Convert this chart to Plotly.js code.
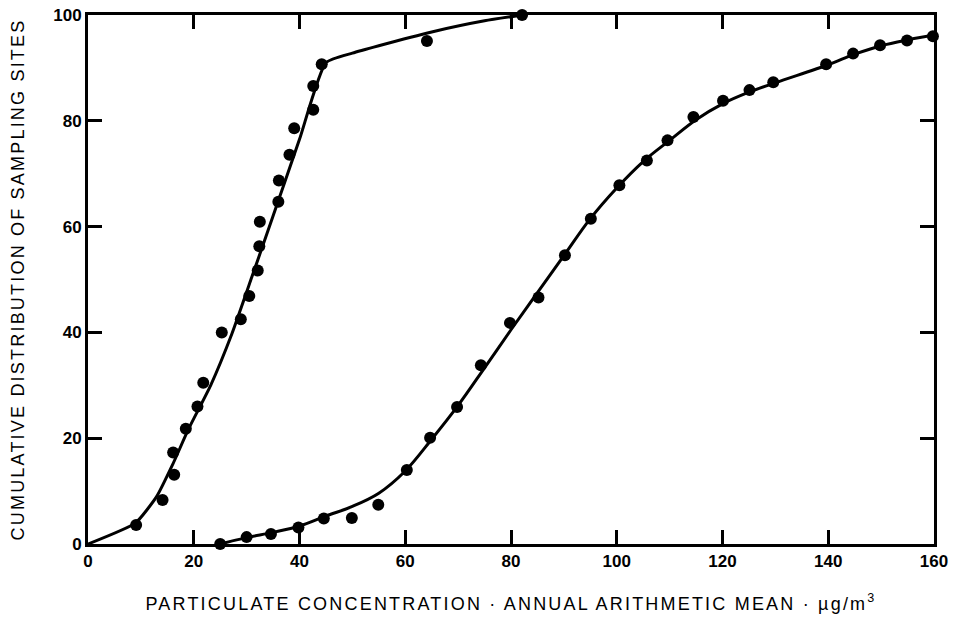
<!DOCTYPE html>
<html>
<head>
<meta charset="utf-8">
<script src="https://cdn.plot.ly/plotly-3.0.1.min.js"></script>
<style>html,body{margin:0;padding:0;background:#fff;}#chart{width:957px;height:618px;}</style>
</head>
<body>
<div id="chart"></div>
<script>
// Observed data points
const nonurbanX = [9.1, 14.1, 16.3, 16.1, 18.5, 20.7, 21.8, 25.3, 28.9, 30.5, 32.1, 32.4, 32.5, 36.0, 36.1, 38.1, 39.0, 42.6, 42.6, 44.2, 64.1, 82.1];
const nonurbanY = [3.6, 8.3, 13.1, 17.3, 21.8, 26.0, 30.5, 40.0, 42.5, 46.9, 51.7, 56.3, 60.9, 64.7, 68.7, 73.6, 78.6, 82.1, 86.6, 90.7, 95.1, 100];

const urbanX = [25, 30, 34.6, 39.8, 44.6, 49.9, 54.9, 60.3, 64.7, 69.8, 74.3, 79.8, 85.2, 90.2, 95.1, 100.5, 105.7, 109.6, 114.5, 120.1, 125.1, 129.6, 139.6, 144.7, 149.8, 154.9, 159.8];
const urbanY = [0, 1.3, 1.9, 3.1, 4.8, 4.9, 7.4, 14.0, 20.1, 25.9, 33.8, 41.8, 46.6, 54.6, 61.5, 67.8, 72.5, 76.3, 80.7, 83.8, 85.8, 87.3, 90.7, 92.7, 94.3, 95.2, 96.0];

// Fitted curves
const nonurbanFitX = [0, 9, 13, 16, 19, 23.2, 27.2, 31, 35, 40, 45, 50, 55, 65, 75, 82.1];
const nonurbanFitY = [0, 4, 9, 15, 21.7, 30, 39.7, 50.5, 62, 76.5, 91, 92.8, 94.2, 96.8, 98.9, 100];

const urbanFitX = [25, 30, 35, 40, 45, 50, 55, 60, 65, 70, 75, 80, 85, 90, 95, 100, 105, 110, 115, 120, 125, 130, 140, 145, 150, 155, 160];
const urbanFitY = [0, 1.2, 2.2, 3.4, 5.3, 7.1, 9.6, 13.8, 19.8, 26.2, 33.3, 40.5, 47.5, 54.5, 61.5, 67.3, 72.3, 76.3, 80.2, 83.2, 85.4, 87.2, 90.6, 92.6, 94.2, 95.3, 96.2];

const xTicks = [0, 20, 40, 60, 80, 100, 120, 140, 160];
const yTicks = [0, 20, 40, 60, 80, 100];

const FONT = 'Liberation Sans, Arial, sans-serif';
const markerStyle = {color: '#000', size: 12};

const traces = [
  {x: nonurbanFitX, y: nonurbanFitY, mode: 'lines', line: {color: '#000', width: 3, shape: 'spline', smoothing: 0.5}, cliponaxis: false, hoverinfo: 'skip'},
  {x: urbanFitX, y: urbanFitY, mode: 'lines', line: {color: '#000', width: 3, shape: 'spline', smoothing: 1}, cliponaxis: false, hoverinfo: 'skip'},
  {x: nonurbanX, y: nonurbanY, mode: 'markers', marker: markerStyle, cliponaxis: false},
  {x: urbanX, y: urbanY, mode: 'markers', marker: markerStyle, cliponaxis: false}
];

const axisCommon = {
  showgrid: false, zeroline: false, showline: true, linecolor: '#000', linewidth: 3,
  mirror: 'ticks', ticks: 'inside', ticklen: 14, tickwidth: 3, tickcolor: '#000',
  tickfont: {family: FONT, size: 17, color: '#000', weight: 'bold'}
};

const layout = {
  width: 957, height: 618,
  margin: {l: 88, r: 23, t: 15, b: 74},
  paper_bgcolor: '#fff', plot_bgcolor: '#fff',
  showlegend: false,
  xaxis: Object.assign({}, axisCommon, {
    range: [0, 160], tickvals: xTicks, ticktext: xTicks.map(String),
    title: {text: 'PARTICULATE CONCENTRATION · ANNUAL ARITHMETIC MEAN · µg/m<sup>3</sup>', standoff: 27,
      font: {family: FONT, size: 18, color: '#000'}}
  }),
  yaxis: Object.assign({}, axisCommon, {
    range: [0, 100], tickvals: yTicks, ticktext: yTicks.map(String),
    title: {text: 'CUMULATIVE DISTRIBUTION OF SAMPLING SITES', standoff: 24,
      font: {family: FONT, size: 18, color: '#000'}}
  })
};

Plotly.newPlot('chart', traces, layout, {displayModeBar: false, staticPlot: true}).then(function () {
  document.querySelectorAll('.xtitle, .ytitle').forEach(function (t) { t.style.letterSpacing = '2.2px'; });
});
</script>
</body>
</html>
